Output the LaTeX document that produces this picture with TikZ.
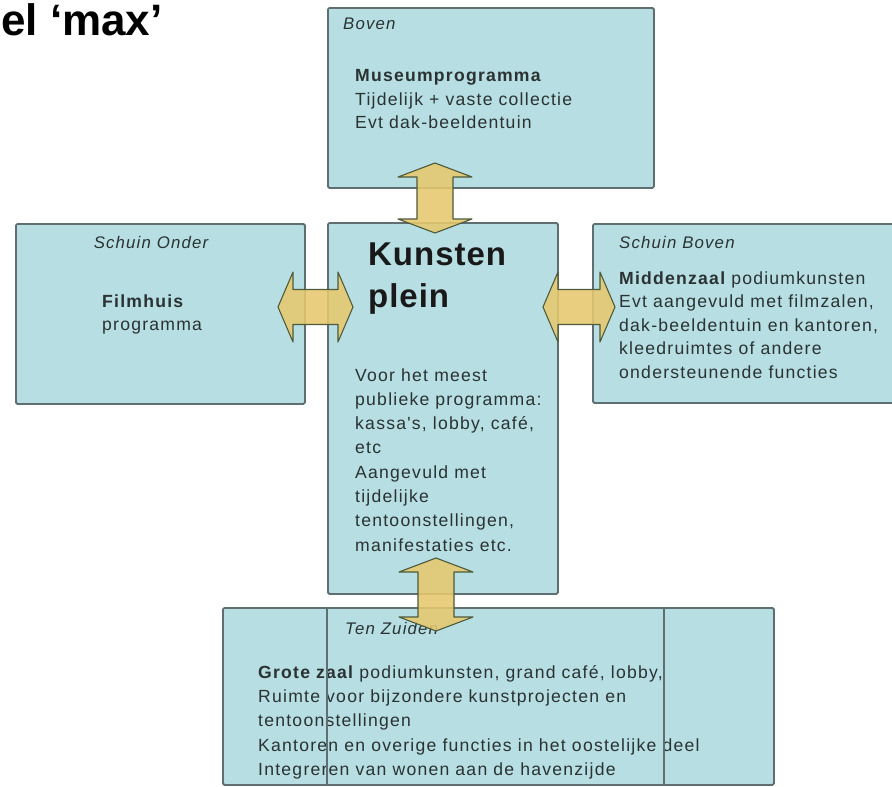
\documentclass[tikz,border=0pt]{standalone}
\usepackage{fontspec}
\setmainfont{Liberation Sans}
\newfontfamily\boxfont[LetterSpace=7]{Liberation Sans}
\newfontfamily\bigfont[LetterSpace=3]{Liberation Sans}
\usetikzlibrary{calc}
\definecolor{boxfill}{HTML}{B7DEE2}
\definecolor{boxline}{HTML}{5F6E70}
\definecolor{arrfill}{HTML}{E6C86E}
\definecolor{arrline}{HTML}{4E5A3A}
\definecolor{txt}{HTML}{2A3232}
\newcommand{\vdbl}[2]{\draw[blockarrow] (#1) -- ++(37,14) -- ++(-19,0) -- ($(#2)+(18,-14)$) -- ++(19,0) -- (#2) -- ++(-37,-14) -- ++(19,0) -- ($(#1)+(-18,14)$) -- ++(-19,0) -- cycle;}
\newcommand{\hdbl}[2]{\draw[blockarrow] (#1) -- ++(15,-35) -- ++(0,17.5) -- ($(#2)+(-15,-17.5)$) -- ++(0,-17.5) -- (#2) -- ++(-15,35) -- ++(0,-17.5) -- ($(#1)+(15,17.5)$) -- ++(0,17.5) -- cycle;}
\begin{document}
\begin{tikzpicture}[x=1pt,y=-1pt,
  box/.style={draw=boxline, line width=1.8pt, fill=boxfill, rounded corners=1.5pt, inner sep=0pt, anchor=north west},
  tl/.style={anchor=base west, inner sep=0pt, text=txt, font=\boxfont\fontsize{17.6}{24}\selectfont},
  lbl/.style={tl, font=\boxfont\fontsize{16.8}{24}\selectfont\itshape},
  big/.style={anchor=base west, inner sep=0pt, text=black!90, font=\bigfont\fontsize{33}{40}\selectfont\bfseries},
  blockarrow/.style={draw=arrline, line width=1.1pt, fill=arrfill, fill opacity=0.88, line join=round},
  divider/.style={draw=boxline, line width=1.8pt}]
\useasboundingbox (0,0) rectangle (892,787);
\clip (0,0) rectangle (892,787);
\fill[white] (0,0) rectangle (892,787);
% title
\node[anchor=base west, inner sep=0pt, font=\fontsize{44}{50}\selectfont\bfseries] (title) at (1,35) {el ‘max’};
% boxes
\node[box, minimum width=326, minimum height=180] (boven) at (327,7) {};
\node[box, minimum width=230, minimum height=371] (plein) at (327,222) {};
\node[box, minimum width=289, minimum height=180] (onder) at (15,223) {};
\node[box, minimum width=320, minimum height=179] (schuin) at (592,223) {};
\node[box, minimum width=551, minimum height=177] (zuiden) at (222,607) {};
% top box text
\node[lbl] (bovenlbl) at (343,30) {Boven};
\node[tl] (b1) at (355,81) {\bfseries Museumprogramma};
\node[tl] (b2) at (355,105) {Tijdelijk + vaste collectie};
\node[tl] (b3) at (355,128) {Evt dak-beeldentuin};
% left box text
\node[lbl, anchor=base] (onderlbl) at (151,248) {Schuin Onder};
\node[tl] (o1) at (102,307) {\bfseries Filmhuis};
\node[tl] (o2) at (102,330.5) {programma};
% right box text
\node[lbl] (schuinlbl) at (619,248) {Schuin Boven};
\node[tl] (s1) at (619,284) {\bfseries Middenzaal\mdseries{} podiumkunsten};
\node[tl] (s2) at (619,307.5) {Evt aangevuld met filmzalen,};
\node[tl] (s3) at (619,331) {dak-beeldentuin en kantoren,};
\node[tl] (s4) at (619,354.5) {kleedruimtes of andere};
\node[tl] (s5) at (619,378) {ondersteunende functies};
% center box text
\node[big] (k1) at (368,265) {Kunsten};
\node[big] (k2) at (368,307) {plein};
\node[tl] (p1) at (355,381) {Voor het meest};
\node[tl] (p2) at (355,405.3) {publieke programma:};
\node[tl] (p3) at (355,429.6) {kassa's, lobby, café,};
\node[tl] (p4) at (355,453.9) {etc};
\node[tl] (p5) at (355,478.2) {Aangevuld met};
\node[tl] (p6) at (355,502.5) {tijdelijke};
\node[tl] (p7) at (355,526.8) {tentoonstellingen,};
\node[tl] (p8) at (355,551.1) {manifestaties etc.};
% bottom box text
\node[lbl] (zuidenlbl) at (345,634) {Ten Zuiden};
\node[tl] (z1) at (258,678) {\bfseries Grote zaal\mdseries{} podiumkunsten, grand café, lobby,};
\node[tl] (z2) at (258,702.4) {Ruimte voor bijzondere kunstprojecten en};
\node[tl] (z3) at (258,726.8) {tentoonstellingen};
\node[tl] (z4) at (258,751.2) {Kantoren en overige functies in het oostelijke deel};
\node[tl] (z5) at (258,775.6) {Integreren van wonen aan de havenzijde};
% dividers in bottom box
\coordinate (d1t) at (327,607); \coordinate (d1b) at (327,784);
\coordinate (d2t) at (664,607); \coordinate (d2b) at (664,784);
\draw[divider] (d1t) -- (d1b);
\draw[divider] (d2t) -- (d2b);
% arrows
\coordinate (at1) at (435,163); \coordinate (at2) at (435,233);
\coordinate (al1) at (278,307); \coordinate (al2) at (353,307);
\coordinate (ar1) at (543,307); \coordinate (ar2) at (615,307);
\coordinate (ab1) at (436,558); \coordinate (ab2) at (436,631);
\vdbl{at1}{at2}
\hdbl{al1}{al2}
\hdbl{ar1}{ar2}
\vdbl{ab1}{ab2}
\end{tikzpicture}
\end{document}
